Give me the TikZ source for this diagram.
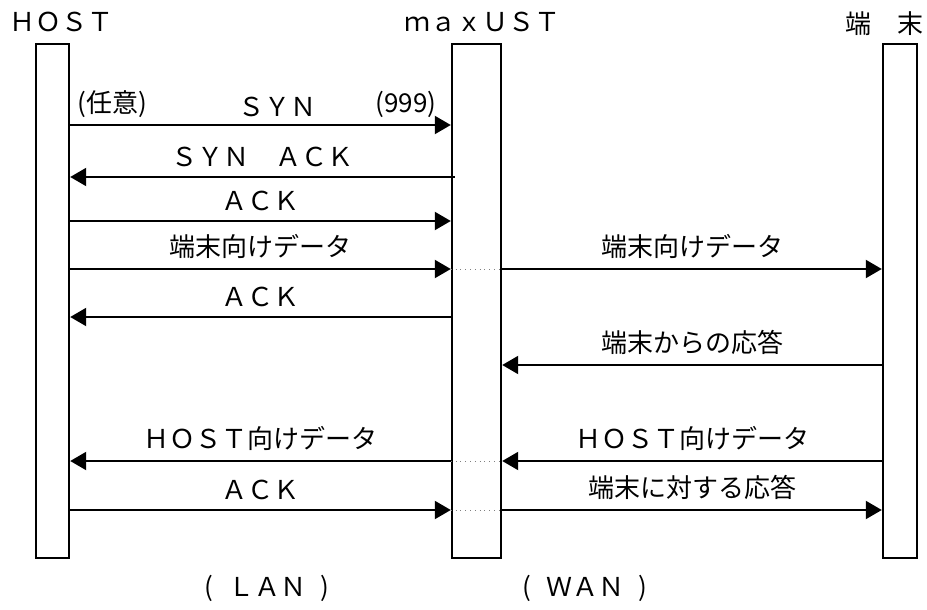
\documentclass[tikz,border=0pt]{standalone}
\usepackage{fontspec}
\setmainfont{Noto Sans CJK JP}
\usetikzlibrary{arrows.meta}
\begin{document}
\begin{tikzpicture}[x=0.5pt,y=-0.5pt,>={Triangle[length=8pt,width=9pt]},
  bar/.style={draw,line width=1.2pt,inner sep=0pt,minimum height=257pt},
  msg/.style={line width=1pt},
  lbl/.style={font=\fontsize{13pt}{15pt}\selectfont,inner sep=0pt},
  thru/.style={dotted,gray,thin}]
\useasboundingbox (0,0) rectangle (927,610);

% lifelines
\node[bar,minimum width=16.5pt] (host) at (52.5,301) {};
\node[bar,minimum width=24.5pt] (ust) at (476.5,301) {};
\node[bar,minimum width=17pt] (term) at (900,301) {};
\node[lbl] (hostlbl) at (62,22) {ＨＯＳＴ};
\node[lbl] (ustlbl) at (482,22) {ｍａｘＵＳＴ};
\node[lbl] (termlbl) at (884,24) {端　末};

\foreach \y in {125,177,221,269,317,365,461,510}
    \coordinate (r\y) at (0,\y);

% HOST <-> maxUST
\draw[msg,->] (host.east |- r125) -- (ust.west |- r125);
\node[lbl,above=4pt] (syn) at (277,125) {ＳＹＮ};
\node[lbl,anchor=south west] (isn) at (77,118) {(任意)};
\node[lbl,anchor=south east] (ack999) at (437,118) {(999)};
\draw[msg,->] ([xshift=2pt]ust.west |- r177) -- node[lbl,above=4.5pt]{ＳＹＮ　ＡＣＫ} (host.east |- r177);
\foreach \y/\txt/\dir in {221/ＡＣＫ/->,269/端末向けデータ/->,317/ＡＣＫ/<-,461/ＨＯＳＴ向けデータ/<-,510/ＡＣＫ/->}
{
    \draw[msg,\dir] (host.east |- r\y) -- node[lbl,above=4.5pt]{\txt} (ust.west |- r\y);
}

% maxUST <-> terminal
\foreach \y/\txt/\dir in {269/端末向けデータ/->,365/端末からの応答/<-,461/ＨＯＳＴ向けデータ/<-,510/端末に対する応答/->}
{
    \draw[msg,\dir] (ust.east |- r\y) -- node[lbl,above=4.5pt]{\txt} (term.west |- r\y);
}
\foreach \y in {269,461,510}
    \draw[thru] (ust.west |- r\y) -- (ust.east |- r\y);

\node[lbl] (lan) at (267,588) {(\hspace{.55em}ＬＡＮ\hspace{.55em})};
\node[lbl] (wan) at (585,588) {(\hspace{.55em}ＷＡＮ\hspace{.55em})};
\end{tikzpicture}
\end{document}
